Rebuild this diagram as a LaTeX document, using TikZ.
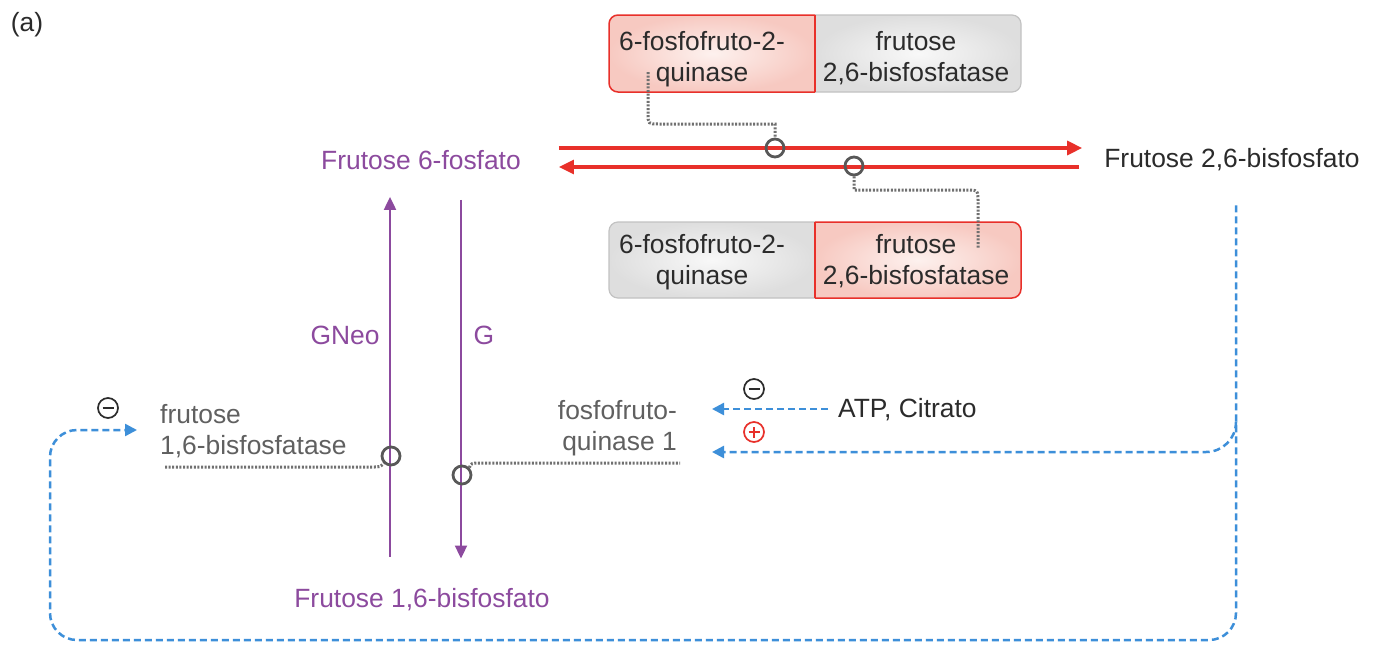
\documentclass[tikz,border=0pt]{standalone}
\usepackage{fontspec}
\setmainfont{Liberation Sans}
\usetikzlibrary{arrows.meta,calc}
\definecolor{redA}{HTML}{E8302A}
\definecolor{purp}{HTML}{8C4A9E}
\definecolor{blueA}{HTML}{3D8FD9}
\definecolor{dotgrey}{HTML}{707070}
\definecolor{circgrey}{HTML}{585858}
\definecolor{txtgrey}{HTML}{606060}
\definecolor{txtdark}{HTML}{2B2B2B}
\definecolor{pinkO}{HTML}{F7C9C1}
\definecolor{pinkI}{HTML}{FDF1EE}
\definecolor{greyI}{HTML}{F8F8F8}
\definecolor{greyO}{HTML}{DEDEDE}
\definecolor{greyE}{HTML}{C2C2C2}
\begin{document}
\begin{tikzpicture}[x=1pt,y=-1pt,
  every node/.style={inner sep=0pt, font=\fontsize{26.4}{31}\selectfont},
  lbl/.style={text=txtdark},
  glbl/.style={text=txtgrey},
  plbl/.style={text=purp},
  enz/.style={circle, draw=circgrey, line width=2.8pt, minimum size=18pt},
  dotl/.style={draw=dotgrey, line width=3pt, dash pattern=on 2pt off 1.6pt},
  rarrow/.style={draw=redA, line width=3.2pt, -{Triangle[length=15pt,width=14pt]}},
  parrow/.style={draw=purp, line width=2pt, -{Triangle[length=13pt,width=12pt]}},
  bdash/.style={draw=blueA, line width=2.5pt, dash pattern=on 7pt off 4pt},
  btip/.style={-{Triangle[length=12pt,width=12pt]}},
  signm/.style={circle, draw=txtdark, line width=1.7pt, minimum size=20pt,
    path picture={\draw[txtdark, line width=1.7pt] ([xshift=-5.5pt]path picture bounding box.center) -- ([xshift=5.5pt]path picture bounding box.center);}},
  signp/.style={circle, draw=redA, line width=1.7pt, minimum size=20pt,
    path picture={\draw[redA, line width=1.7pt] ([xshift=-5.5pt]path picture bounding box.center) -- ([xshift=5.5pt]path picture bounding box.center)
      ([yshift=-5.5pt]path picture bounding box.center) -- ([yshift=5.5pt]path picture bounding box.center);}}
]
\useasboundingbox[fill=white] (0,0) rectangle (1380,648);

% label (a)
\node[lbl] (tag) at (27,25) {(a)};

% ---------- top enzyme box ----------
\shadedraw[draw=greyE, line width=1.2pt, inner color=greyI, outer color=greyO, rounded corners=9pt]
  (815,15) -- (1021,15) -- (1021,92) -- (815,92);
\shadedraw[draw=redA, line width=1.5pt, inner color=pinkI, outer color=pinkO, rounded corners=9pt]
  (815,92) -- (609,92) -- (609,15) -- (815,15);
\draw[redA, line width=1.5pt] (815,15) -- (815,92);
\node[lbl, align=center, anchor=north] (tk) at (702,31) {6-fosfofruto-2-\\quinase};
\node[lbl, align=center, anchor=north] (tb) at (916,31) {frutose\\2,6-bisfosfatase};

% ---------- bottom enzyme box ----------
\shadedraw[draw=greyE, line width=1.2pt, inner color=greyI, outer color=greyO, rounded corners=9pt]
  (815,298) -- (609,298) -- (609,222) -- (815,222);
\shadedraw[draw=redA, line width=1.5pt, inner color=pinkI, outer color=pinkO, rounded corners=9pt]
  (815,222) -- (1021,222) -- (1021,298) -- (815,298);
\draw[redA, line width=1.5pt] (815,222) -- (815,298);
\node[lbl, align=center, anchor=north] (bk) at (702,234) {6-fosfofruto-2-\\quinase};
\node[lbl, align=center, anchor=north] (bb) at (916,234) {frutose\\2,6-bisfosfatase};

% ---------- metabolites ----------
\node[plbl] (f6) at (421,160) {Frutose 6-fosfato};
\node[lbl] (f26) at (1232,160) {Frutose 2,6-bisfosfato};
\node[plbl] (f16) at (422,600) {Frutose 1,6-bisfosfato};
\node[plbl] (gneo) at (345,335) {GNeo};
\node[plbl] (g) at (484,335) {G};

% ---------- red arrows ----------
\draw[rarrow] ($(f6.east)+(38,-12)$) -- ($(f26.west)+(-22,-12)$);
\draw[rarrow] ($(f26.west)+(-25,7)$) -- ($(f6.east)+(38,7)$);
\node[enz] (c1) at (775,148) {};
\node[enz] (c2) at (854,166) {};
\coordinate (d1) at (648,72);
\coordinate (d2) at (978,248);
\draw[dotl] (d1) -- (648,113) .. controls (648,124) .. (659,124) -- (775,124) -- (c1.north);
\draw[dotl] (c2.south) -- (854,190) -- (966,190) .. controls (978,190) .. (978,202) -- (d2);

% ---------- purple arrows ----------
\coordinate (gx) at (390,0);
\coordinate (hx) at (461,0);
\draw[parrow, shorten <=32pt, shorten >=27pt] (f16.north -| gx) -- (f6.south -| gx);
\draw[parrow, shorten <=30pt, shorten >=30pt] (f6.south -| hx) -- (f16.north -| hx);
\node[enz] (c3) at (391,456) {};
\node[enz] (c4) at (462,475) {};

% ---------- enzyme labels ----------
\node[glbl, align=left, anchor=north west] (fbp) at (160,404) {frutose\\1,6-bisfosfatase};
\node[glbl, align=right, anchor=north east] (pfk) at (677,400) {fosfofruto-\\quinase 1};
\coordinate (d3) at (165,467);
\coordinate (d4) at (680,463);
\draw[dotl] (d3) -- (372,467) .. controls (380,467) .. (c3.south west);
\draw[dotl] (c4.north east) .. controls (471,463) .. (483,463) -- (d4);

% ---------- regulation ----------
\node[lbl, anchor=west] (atp) at (838,410) {ATP, Citrato};
\coordinate (tipA) at (712,409);
\coordinate (tipB) at (712,452);
\coordinate (tipL) at (137,430);
\draw[bdash, btip] ($(atp.west)+(-10,-1)$) -- (tipA);
\draw[bdash, btip, rounded corners=27pt] ($(f26.south)+(4,34)$) -- (1236,640) -- (50,640) -- (50,430) -- (tipL);
\draw[bdash, btip, rounded corners=30pt] ($(f26.south)+(4,250)$) |- (tipB);
\node[signm] (m1) at (108,408) {};
\node[signm] (m2) at (754,389) {};
\node[signp] (p1) at (754,432) {};
\end{tikzpicture}
\end{document}
